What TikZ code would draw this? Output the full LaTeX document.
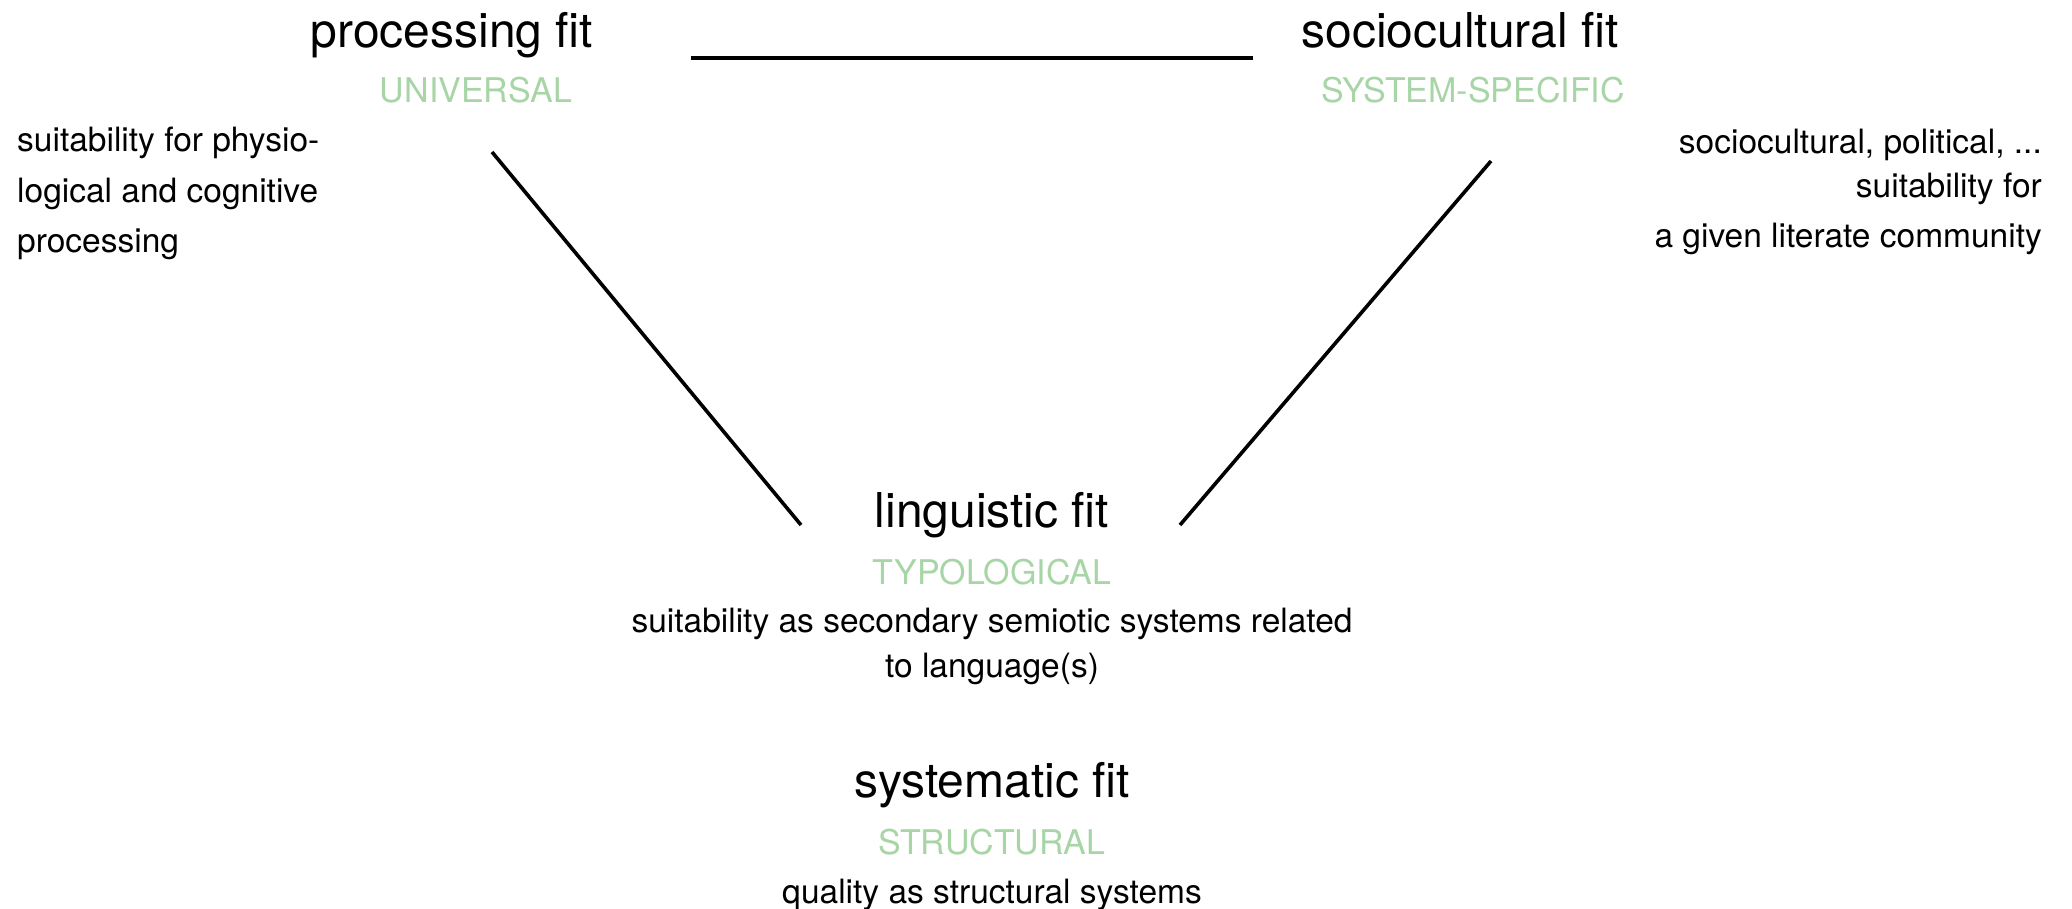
\documentclass[tikz,border=0pt]{standalone}
\usepackage{fontspec}
\setmainfont{TeX Gyre Heros}
\definecolor{labelgreen}{RGB}{168,213,166}
\begin{document}
\begin{tikzpicture}[x=1pt,y=-1pt,
  title/.style={font=\fontsize{48}{58}\selectfont, inner sep=0pt, anchor=base},
  kind/.style={font=\fontsize{34}{40}\selectfont, text=labelgreen, inner sep=0pt, anchor=base},
  desc/.style={font=\fontsize{33.5}{48}\selectfont, inner sep=0pt},
  link/.style={line width=3.6pt}]
\useasboundingbox (0,0) rectangle (2072,909);

% processing fit
\node[title] (proc) at (452,48) {processing fit};
\node[kind] (univ) at (476,103) {UNIVERSAL};
\node[desc, anchor=base west] (procA) at (17,152) {suitability for physio-};
\node[desc, anchor=base west] (procB) at (17,203) {logical and cognitive};
\node[desc, anchor=base west] (procC) at (17,253) {processing};

% sociocultural fit
\node[title] (soc) at (1460,48) {sociocultural fit};
\node[kind] (sysspec) at (1473,103) {SYSTEM-SPECIFIC};
\node[desc, anchor=base east] (socA) at (2042,154) {sociocultural, political, ...};
\node[desc, anchor=base east] (socB) at (2042,198) {suitability for};
\node[desc, anchor=base east] (socC) at (2042,248) {a given literate community};

% linguistic fit
\node[title] (ling) at (992,527) {linguistic fit};
\node[kind] (typo) at (992,584) {TYPOLOGICAL};
\node[desc, anchor=base] (lingA) at (992,632) {suitability as secondary semiotic systems related};
\node[desc, anchor=base] (lingB) at (992,677) {to language(s)};

% systematic fit
\node[title] (syst) at (992,797) {systematic fit};
\node[kind] (struct) at (992,854) {STRUCTURAL};
\node[desc, anchor=base] (systA) at (992,903) {quality as structural systems};

% connector end points
\coordinate (topL) at (691,58);
\coordinate (topR) at (1253,58);
\coordinate (leftTop) at (492,152);
\coordinate (leftBot) at (801,525);
\coordinate (rightTop) at (1491,161);
\coordinate (rightBot) at (1180,525);

\draw[link] (topL) -- (topR);
\draw[link] (leftTop) -- (leftBot);
\draw[link] (rightTop) -- (rightBot);
\end{tikzpicture}
\end{document}
